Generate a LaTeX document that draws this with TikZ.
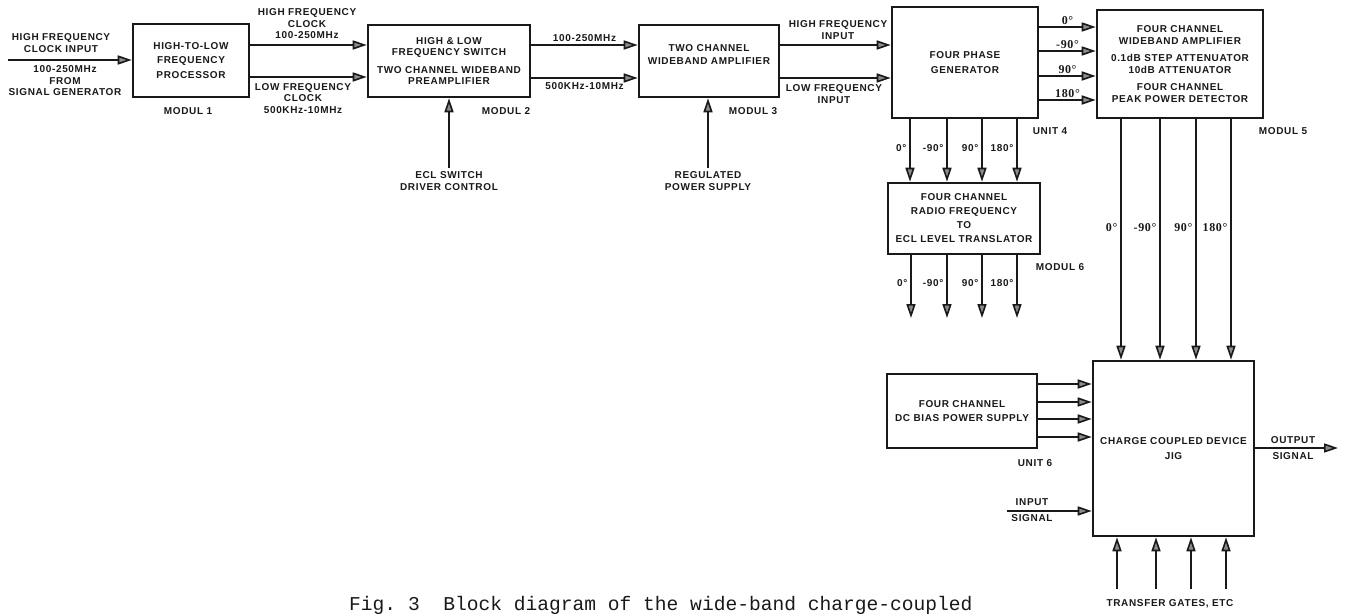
\documentclass[tikz,border=0pt]{standalone}
\usepackage{fontspec}
\usepackage{tikz}
\usetikzlibrary{arrows.meta, positioning, calc}
\newfontfamily\lblfont[LetterSpace=6.5]{Liberation Sans}
\newfontfamily\degfont[LetterSpace=5.0]{Liberation Serif}
\newfontfamily\capfont{Liberation Mono}
\definecolor{inkblack}{RGB}{25, 25, 25}
\definecolor{tipgray}{RGB}{140, 140, 140}

\begin{document}
\begin{tikzpicture}[
  x=1pt, y=-1pt,
  block/.style={draw=inkblack, line width=2.6pt, fill=white, inner sep=0pt,
                align=center, text=inkblack,
                font=\lblfont\bfseries\fontsize{10}{12.5}\selectfont},
  sig/.style={-{Triangle[length=14pt, width=9pt, fill=tipgray]},
              line width=1.6pt, draw=inkblack},
  lbl/.style={align=center, inner sep=1pt, text=inkblack,
              font=\lblfont\bfseries\fontsize{10}{12}\selectfont},
  tight/.style={lbl, font=\lblfont\bfseries\fontsize{10}{11.5}\selectfont},
  deg/.style={lbl, inner sep=1.5pt},
  sdeg/.style={deg, font=\degfont\bfseries\fontsize{12}{13}\selectfont}
]
  \useasboundingbox (0,0) rectangle (1349,613);

  % blocks
  \node[block, minimum width=116pt, minimum height=73pt] (m1) at (191,60.5)
    {HIGH-TO-LOW\\[2pt]FREQUENCY\\[2pt]PROCESSOR};
  \node[block, minimum width=162pt, minimum height=72pt] (m2) at (449,61)
    {HIGH \& LOW\\[-1.5pt]FREQUENCY SWITCH\\[5pt]TWO CHANNEL WIDEBAND\\[-1.5pt]PREAMPLIFIER};
  \node[block, minimum width=140pt, minimum height=72pt] (m3) at (709,61)
    {TWO CHANNEL\\WIDEBAND AMPLIFIER\\\mbox{}};
  \node[block, minimum width=146pt, minimum height=111pt] (m4) at (965,62.5)
    {FOUR PHASE\\[2pt]GENERATOR};
  \node[block, minimum width=166pt, minimum height=108pt] (m5) at (1180,64)
    {FOUR CHANNEL\\WIDEBAND AMPLIFIER\\[4pt]0.1dB STEP ATTENUATOR\\10dB ATTENUATOR\\[4pt]FOUR CHANNEL\\PEAK POWER DETECTOR};
  \node[block, minimum width=152pt, minimum height=71pt] (m6) at (964,218.5)
    {FOUR CHANNEL\\[1.5pt]RADIO FREQUENCY\\[1.5pt]TO\\[1.5pt]ECL LEVEL TRANSLATOR};
  \node[block, minimum width=150pt, minimum height=74pt] (u6) at (962,411)
    {FOUR CHANNEL\\[2pt]DC BIAS POWER SUPPLY};
  \node[block, minimum width=161pt, minimum height=175pt] (m8) at (1173.5,448.5)
    {CHARGE COUPLED DEVICE\\[2.5pt]JIG};

  % module names
  \node[lbl] (n1) at (188,111) {MODUL 1};
  \node[lbl] (n2) at (506,111) {MODUL 2};
  \node[lbl] (n3) at (753,111) {MODUL 3};
  \node[lbl] (n4) at (1050,131) {UNIT 4};
  \node[lbl] (n5) at (1283,131) {MODUL 5};
  \node[lbl] (n6) at (1060,267) {MODUL 6};
  \node[lbl] (n7) at (1035,463) {UNIT 6};

  % clock input
  \coordinate (clkin) at (8,60);
  \draw[sig] (clkin) -- (clkin -| m1.west);
  \node[lbl] (clkup) at (61,43.5) {HIGH FREQUENCY\\CLOCK INPUT};
  \node[tight] (clkdn) at (65,81) {100-250MHz\\FROM\\SIGNAL GENERATOR};

  % modul 1 to modul 2
  \draw[sig] (m1.east |- 0,45) -- (m2.west |- 0,45);
  \draw[sig] (m1.east |- 0,77) -- (m2.west |- 0,77);
  \node[tight] (hf1) at (307,24) {HIGH FREQUENCY\\CLOCK\\100-250MHz};
  \node[tight] (lf1) at (303,98.5) {LOW FREQUENCY\\CLOCK\\500KHz-10MHz};

  % modul 2 to modul 3
  \draw[sig] (m2.east |- 0,45) -- node[lbl, above=2pt] (hf2) {100-250MHz} (m3.west |- 0,45);
  \draw[sig] (m2.east |- 0,78) -- node[lbl, below=3pt] (lf2) {500KHz-10MHz} (m3.west |- 0,78);

  % modul 3 to unit 4
  \draw[sig] (m3.east |- 0,45) -- (m4.west |- 0,45);
  \draw[sig] (m3.east |- 0,78) -- (m4.west |- 0,78);
  \node[lbl] (hf3) at (838,30.5) {HIGH FREQUENCY\\INPUT};
  \node[lbl] (lf3) at (834,94) {LOW FREQUENCY\\INPUT};

  % control inputs
  \coordinate (ecl) at (449,168);
  \draw[sig] (ecl) -- (ecl |- m2.south);
  \node[lbl] (ecltxt) at (449,181.5) {ECL SWITCH\\DRIVER CONTROL};
  \coordinate (reg) at (708,168);
  \draw[sig] (reg) -- (reg |- m3.south);
  \node[lbl] (regtxt) at (708,181.5) {REGULATED\\POWER SUPPLY};

  % four phases into modul 5
  \foreach \y/\ph [count=\i] in {27/0°, 51/-90°, 76/90°, 100/180°}
    \draw[sig] (m4.east |- 0,\y) -- node[sdeg, above] (pa\i) {\ph} (m5.west |- 0,\y);

  % four phases into modul 6
  \foreach \x/\ph [count=\i] in {910/0°, 947/-90°, 982/90°, 1017/180°} {
    \draw[sig] (m4.south -| \x,0) -- (m6.north -| \x,0);
    \node[deg, anchor=east] (pb\i) at (\x-2,148) {\ph};
  }

  % modul 6 outputs
  \foreach \x/\ph [count=\i] in {911/0°, 947/-90°, 982/90°, 1017/180°} {
    \coordinate (q\i) at (\x,318);
    \draw[sig] (m6.south -| q\i) -- (q\i);
    \node[deg, anchor=east] (pc\i) at (\x-2,283) {\ph};
  }

  % modul 5 to jig
  \foreach \x/\ph [count=\i] in {1121/0°, 1160/-90°, 1196/90°, 1231/180°} {
    \draw[sig] (m5.south -| \x,0) -- (m8.north -| \x,0);
    \node[sdeg, anchor=east] (pd\i) at (\x-2,228) {\ph};
  }

  % bias supply to jig
  \foreach \y in {384, 402, 419, 437}
    \draw[sig] (u6.east |- 0,\y) -- (m8.west |- 0,\y);

  % signal in and out
  \coordinate (insig) at (1007,511);
  \draw[sig] (insig) -- (insig -| m8.west);
  \node[lbl] (intxt) at (1032,510) {INPUT\\[4pt]SIGNAL};
  \coordinate (outsig) at (1338,448);
  \draw[sig] (m8.east |- outsig) -- (outsig);
  \node[lbl] (outtxt) at (1293,448) {OUTPUT\\[4pt]SIGNAL};

  % transfer gates
  \foreach \x [count=\i] in {1117, 1156, 1191, 1226} {
    \coordinate (tg\i) at (\x,589);
    \draw[sig] (tg\i) -- (tg\i |- m8.south);
  }
  \node[lbl] (tgtxt) at (1170,604) {TRANSFER GATES, ETC};

  \node[anchor=base west, inner sep=0pt, text=inkblack,
        font=\capfont\fontsize{19.6}{22}\selectfont\frenchspacing] (caption) at (349,610)
    {Fig.\ 3\ \ Block diagram of the wide-band charge-coupled};
\end{tikzpicture}
\end{document}
